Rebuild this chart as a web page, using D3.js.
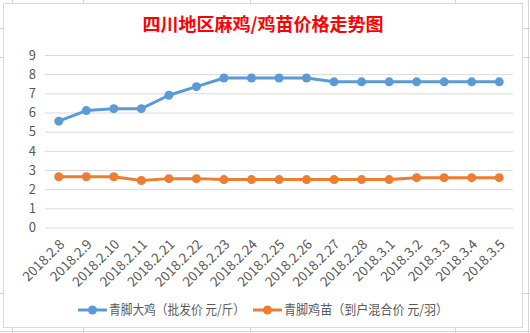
<!DOCTYPE html>
<html><head><meta charset="utf-8">
<script src="https://cdn.jsdelivr.net/npm/d3@7"></script>
<style>body{margin:0;background:#fff}svg{display:block}</style>
</head><body>
<svg id="c" width="530" height="333"></svg>
<script>
const categories = ["2018.2.8","2018.2.9","2018.2.10","2018.2.11","2018.2.21","2018.2.22","2018.2.23","2018.2.24","2018.2.25","2018.2.26","2018.2.27","2018.2.28","2018.3.1","2018.3.2","2018.3.3","2018.3.4","2018.3.5"];
const bigChicken = [5.55,6.1,6.2,6.2,6.9,7.35,7.8,7.8,7.8,7.8,7.6,7.6,7.6,7.6,7.6,7.6,7.6];
const chick = [2.65,2.65,2.65,2.45,2.55,2.55,2.5,2.5,2.5,2.5,2.5,2.5,2.5,2.6,2.6,2.6,2.6];
const yTicks = [0,1,2,3,4,5,6,7,8,9];
const seriesNames = ["青脚大鸡（批发价 元/斤）","青脚鸡苗（到户混合价 元/羽）"];
const colors = ["#5B9BD5","#ED7D31"];
const title = "四川地区麻鸡/鸡苗价格走势图";

const svg = d3.select("#c");
const font = "'Noto Sans CJK SC','Microsoft YaHei',sans-serif";

// spreadsheet background grid marks
const bg = svg.append("g").attr("stroke","#d4d4d4").attr("stroke-width",1);
[12,83,250,455,528].forEach(x=>bg.append("line").attr("x1",x+0.5).attr("x2",x+0.5).attr("y1",0).attr("y2",333));
[28,57,293,331].forEach(y=>bg.append("line").attr("x1",0).attr("x2",530).attr("y1",y+0.5).attr("y2",y+0.5));

// chart area
svg.append("rect").attr("x",3.5).attr("y",3.5).attr("width",519).attr("height",324)
  .attr("fill","#fff").attr("stroke","#d9d9d9");

svg.append("text").attr("x",263).attr("y",31).attr("text-anchor","middle")
  .attr("font-family",font).attr("font-size",18).attr("font-weight","bold")
  .attr("fill","#FF0000").text(title);

const x = d3.scaleBand().domain(categories).range([45,513]);
const y = d3.scaleLinear().domain([0,9]).range([227.5,55]);

const yAxis = svg.append("g").attr("transform","translate(45,0)")
  .call(d3.axisLeft(y).tickValues(yTicks).tickSize(-468).tickPadding(9).tickFormat(d3.format("d")));
yAxis.select(".domain").remove();
yAxis.selectAll("line").attr("stroke","#d9d9d9");
yAxis.selectAll("text").attr("fill","#595959").attr("font-size",13).attr("font-family",font);

const xAxis = svg.append("g").attr("transform","translate(0,227.5)")
  .call(d3.axisBottom(x).tickSize(0).tickPadding(0));
xAxis.select(".domain").remove();
xAxis.selectAll("text")
  .attr("fill","#595959").attr("font-size",13.5).attr("font-family",font)
  .attr("text-anchor","end").attr("dy",0)
  .attr("transform","translate(4,15) rotate(-45)")
  .attr("dominant-baseline","middle");

const cx = d => x(d) + x.bandwidth()/2;
[bigChicken, chick].forEach((vals,i)=>{
  const line = d3.line().x((d,j)=>cx(categories[j])).y(d=>y(d));
  svg.append("path").datum(vals).attr("d",line).attr("fill","none")
    .attr("stroke",colors[i]).attr("stroke-width",3).attr("stroke-linejoin","round");
  svg.append("g").selectAll("circle").data(vals).join("circle")
    .attr("cx",(d,j)=>cx(categories[j])).attr("cy",d=>y(d)).attr("r",4.5).attr("fill",colors[i]);
});

// legend
const leg = svg.append("g");
const lx = [78,253];
const lw = [136,164];
seriesNames.forEach((n,i)=>{
  leg.append("line").attr("x1",lx[i]).attr("x2",lx[i]+29).attr("y1",310).attr("y2",310)
    .attr("stroke",colors[i]).attr("stroke-width",3);
  leg.append("circle").attr("cx",lx[i]+14.5).attr("cy",310).attr("r",4.5).attr("fill",colors[i]);
  leg.append("text").attr("x",lx[i]+31).attr("y",310).attr("dominant-baseline","middle")
    .attr("font-family",font).attr("font-size",13).attr("fill","#595959")
    .attr("textLength",lw[i]).attr("lengthAdjust","spacingAndGlyphs").text(n);
});
</script>
</body></html>
